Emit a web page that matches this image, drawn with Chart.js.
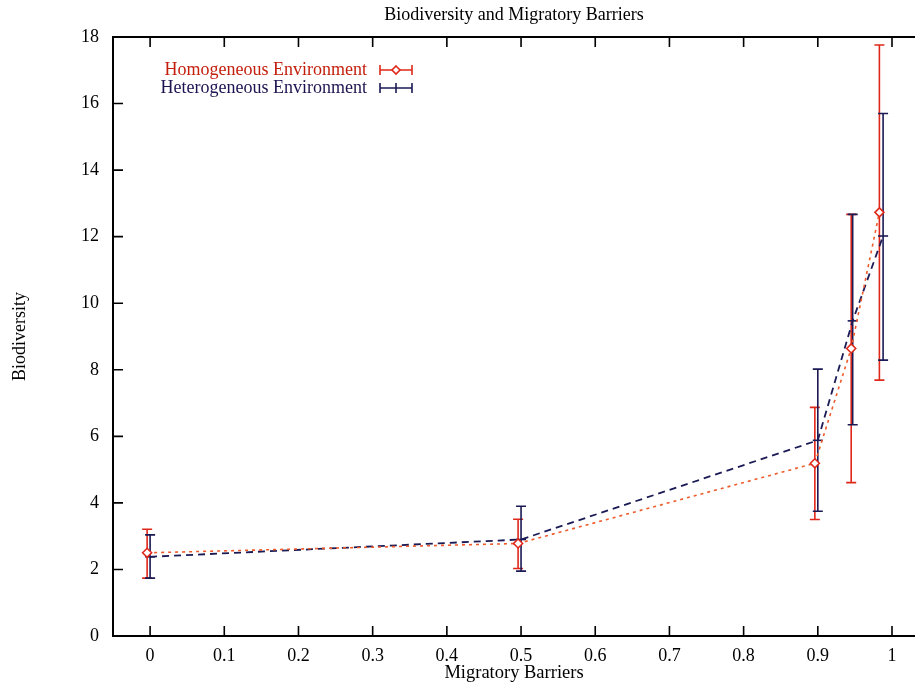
<!DOCTYPE html>
<html>
<head>
<meta charset="utf-8">
<style>
  html, body { margin: 0; padding: 0; background: #fff; }
</style>
<script src="https://cdn.jsdelivr.net/npm/chart.js@4.4.1/dist/chart.umd.min.js"></script>
</head>
<body>
<canvas id="myChart" width="915" height="682"></canvas>
<script>
// values
var xTicks = [0, 0.1, 0.2, 0.3, 0.4, 0.5, 0.6, 0.7, 0.8, 0.9, 1];

var homoX = [-0.004, 0.496, 0.896, 0.945, 0.983];
var homoY = [2.50, 2.78, 5.19, 8.64, 12.73];
var homoLow = [1.74, 2.03, 3.50, 4.61, 7.69];
var homoHigh = [3.21, 3.51, 6.87, 12.67, 17.76];

var hetX = [0, 0.5, 0.9, 0.947, 0.988];
var hetY = [2.38, 2.90, 5.88, 9.47, 12.02];
var hetLow = [1.74, 1.95, 3.75, 6.35, 8.29];
var hetHigh = [3.04, 3.90, 8.02, 12.67, 15.70];

var RED = '#e0281a';
var RED_LINE = '#ee5a2a';
var BLUE = '#1b1a55';
var SERIF = '"Liberation Serif", "DejaVu Serif", serif';

function points(xs, ys, lo, hi) {
  var out = [];
  for (var i = 0; i < xs.length; i++) {
    out.push({ x: xs[i], y: ys[i], lo: lo[i], hi: hi[i] });
  }
  return out;
}

// gnuplot style bits: error bars, inward ticks, top border, title, key
var gnuplotLook = {
  id: 'gnuplotLook',
  beforeDatasetsDraw: function(chart) {
    var ctx = chart.ctx;
    var yScale = chart.scales.y;
    ctx.save();
    chart.data.datasets.forEach(function(ds, i) {
      var meta = chart.getDatasetMeta(i);
      ctx.strokeStyle = ds.barColor;
      ctx.lineWidth = 1.6;
      meta.data.forEach(function(el, j) {
        var d = ds.data[j];
        var yTop = yScale.getPixelForValue(d.hi);
        var yBot = yScale.getPixelForValue(d.lo);
        ctx.beginPath();
        ctx.moveTo(el.x, yTop);
        ctx.lineTo(el.x, yBot);
        ctx.moveTo(el.x - 5, yTop);
        ctx.lineTo(el.x + 5, yTop);
        ctx.moveTo(el.x - 5, yBot);
        ctx.lineTo(el.x + 5, yBot);
        ctx.stroke();
      });
    });
    ctx.restore();
  },
  afterDraw: function(chart) {
    var ctx = chart.ctx;
    var area = chart.chartArea;
    var xs = chart.scales.x;
    var ys = chart.scales.y;
    ctx.save();
    ctx.strokeStyle = '#000';
    ctx.lineWidth = 2;
    // top border
    ctx.beginPath();
    ctx.moveTo(area.left, area.top);
    ctx.lineTo(area.right, area.top);
    ctx.stroke();
    // inward ticks
    ctx.lineWidth = 1.6;
    ctx.beginPath();
    xs.ticks.forEach(function(t) {
      var px = xs.getPixelForValue(t.value);
      ctx.moveTo(px, area.bottom);
      ctx.lineTo(px, area.bottom - 10);
      ctx.moveTo(px, area.top);
      ctx.lineTo(px, area.top + 10);
    });
    ys.ticks.forEach(function(t) {
      var py = ys.getPixelForValue(t.value);
      ctx.moveTo(area.left, py);
      ctx.lineTo(area.left + 10, py);
    });
    ctx.stroke();

    // title
    ctx.fillStyle = '#000';
    ctx.font = '18px ' + SERIF;
    ctx.textAlign = 'center';
    ctx.textBaseline = 'middle';
    ctx.fillText('Biodiversity and Migratory Barriers', (area.left + area.right) / 2, 15);

    // key
    var keyRight = 367, sx0 = 380, sx1 = 412;
    ctx.font = '18px ' + SERIF;
    ctx.textAlign = 'right';
    chart.data.datasets.forEach(function(ds, i) {
      var ky = 70 + i * 18;
      ctx.fillStyle = ds.textColor;
      ctx.fillText(ds.label, keyRight, ky);
      ctx.strokeStyle = ds.barColor;
      ctx.lineWidth = 1.6;
      ctx.beginPath();
      ctx.moveTo(sx0, ky);
      ctx.lineTo(sx1, ky);
      ctx.moveTo(sx0, ky - 5);
      ctx.lineTo(sx0, ky + 5);
      ctx.moveTo(sx1, ky - 5);
      ctx.lineTo(sx1, ky + 5);
      ctx.stroke();
      var mx = (sx0 + sx1) / 2;
      ctx.beginPath();
      if (ds.pointStyle === 'rectRot') {
        ctx.fillStyle = '#fff';
        ctx.moveTo(mx, ky - 4);
        ctx.lineTo(mx + 4, ky);
        ctx.lineTo(mx, ky + 4);
        ctx.lineTo(mx - 4, ky);
        ctx.closePath();
        ctx.fill();
      } else {
        ctx.moveTo(mx, ky - 5);
        ctx.lineTo(mx, ky + 5);
      }
      ctx.stroke();
    });
    ctx.restore();
  }
};

var ctx = document.getElementById('myChart');

var chart = new Chart(ctx, {
  type: 'scatter',
  data: {
    datasets: [{
      label: 'Homogeneous Environment',
      data: points(homoX, homoY, homoLow, homoHigh),
      showLine: true,
      borderColor: RED_LINE,
      borderWidth: 1.6,
      borderDash: [3, 4],
      pointStyle: 'rectRot',
      pointRadius: 4.5,
      pointBorderWidth: 1.6,
      pointBorderColor: RED,
      pointBackgroundColor: '#fff',
      barColor: RED,
      textColor: '#c41e0c'
    }, {
      label: 'Heterogeneous Environment',
      data: points(hetX, hetY, hetLow, hetHigh),
      showLine: true,
      borderColor: BLUE,
      borderWidth: 1.8,
      borderDash: [7, 5],
      pointStyle: 'line',
      pointRadius: 5,
      pointBorderWidth: 1.6,
      pointBorderColor: BLUE,
      barColor: BLUE,
      textColor: '#1c1450'
    }]
  },
  options: {
    responsive: false,
    animation: false,
    devicePixelRatio: 1,
    layout: {
      autoPadding: false,
      padding: { top: 37, right: 0, left: 0, bottom: 0 }
    },
    plugins: {
      legend: { display: false },
      tooltip: { enabled: false }
    },
    scales: {
      x: {
        type: 'linear',
        min: -0.05,
        max: 1.031,
        afterBuildTicks: function(scale) {
          scale.ticks = xTicks.map(function(v) { return { value: v }; });
        },
        afterFit: function(scale) {
          scale.height = 46;
          scale.paddingRight = 0;
          scale.paddingLeft = 0;
        },
        ticks: {
          color: '#000',
          font: { family: SERIF, size: 18 },
          padding: 9,
          maxRotation: 0,
          callback: function(v) { return String(v); }
        },
        grid: { display: true, drawOnChartArea: false, drawTicks: false },
        border: { display: true, color: '#000', width: 2 },
        title: {
          display: true,
          text: 'Migratory Barriers',
          color: '#000',
          font: { family: SERIF, size: 18.5, lineHeight: 1 },
          padding: { top: 0, bottom: 0 }
        }
      },
      y: {
        min: 0,
        max: 18,
        afterFit: function(scale) {
          scale.width = 113;
        },
        ticks: {
          stepSize: 2,
          color: '#000',
          font: { family: SERIF, size: 18 },
          padding: 14
        },
        grid: { display: true, drawOnChartArea: false, drawTicks: false },
        border: { display: true, color: '#000', width: 2 },
        title: {
          display: true,
          text: 'Biodiversity',
          color: '#000',
          font: { family: SERIF, size: 18 },
          padding: { top: 9, bottom: 0 }
        }
      }
    }
  },
  plugins: [gnuplotLook]
});
</script>
</body>
</html>
